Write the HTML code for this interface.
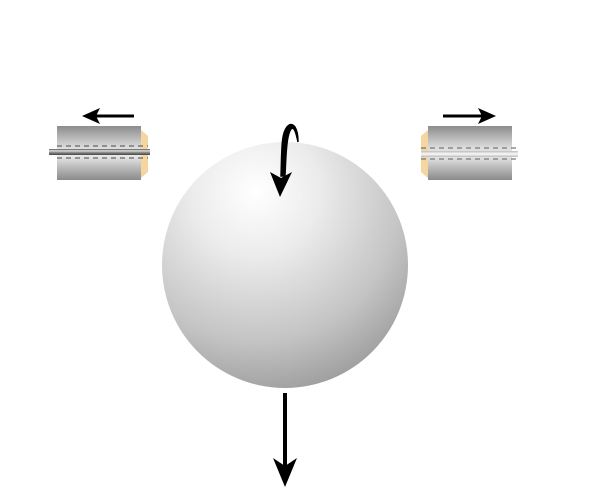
<!DOCTYPE html>
<html><head><meta charset="utf-8"><style>html,body{margin:0;padding:0;background:#fff}svg{display:block}</style></head>
<body>
<svg width="600" height="489" viewBox="0 0 600 489" xmlns="http://www.w3.org/2000/svg">
<defs>
<radialGradient id="sph" cx="0.38" cy="0.22" r="0.85" fx="0.38" fy="0.2">
<stop offset="0" stop-color="#ffffff"/><stop offset="0.3" stop-color="#ececec"/><stop offset="0.7" stop-color="#c4c4c4"/><stop offset="1" stop-color="#989898"/>
</radialGradient>
<linearGradient id="cyl" x1="0" y1="0" x2="0" y2="1">
<stop offset="0" stop-color="#8c8c8c"/><stop offset="0.4" stop-color="#dcdcdc"/><stop offset="0.55" stop-color="#e8e8e8"/><stop offset="1" stop-color="#8a8a8a"/>
</linearGradient>
<linearGradient id="rodL" x1="0" y1="0" x2="0" y2="1">
<stop offset="0" stop-color="#555"/><stop offset="0.3" stop-color="#ddd"/><stop offset="0.6" stop-color="#888"/><stop offset="1" stop-color="#444"/>
</linearGradient>
<linearGradient id="rodR" x1="0" y1="0" x2="0" y2="1">
<stop offset="0" stop-color="#bbb"/><stop offset="0.5" stop-color="#fafafa"/><stop offset="1" stop-color="#bbb"/>
</linearGradient>
</defs>
<circle cx="285" cy="265" r="123" fill="url(#sph)"/>
<g>
<polygon points="141,130 148,136 148,172 141,178" fill="#f5d5a0"/>
<rect x="57" y="126" width="84" height="54" fill="url(#cyl)"/>
<line x1="57" y1="146" x2="148" y2="146" stroke="#666" stroke-width="1.2" stroke-dasharray="5,4"/>
<line x1="57" y1="158" x2="148" y2="158" stroke="#666" stroke-width="1.2" stroke-dasharray="5,4"/>
<rect x="49" y="149" width="101" height="6" fill="url(#rodL)"/>
</g>
<g>
<polygon points="428,130 421,136 421,172 428,178" fill="#f5d5a0"/>
<rect x="428" y="126" width="84" height="54" fill="url(#cyl)"/>
<line x1="421" y1="148" x2="518" y2="148" stroke="#777" stroke-width="1.2" stroke-dasharray="5,4"/>
<line x1="421" y1="159" x2="518" y2="159" stroke="#777" stroke-width="1.2" stroke-dasharray="5,4"/>
<rect x="421" y="151" width="97" height="6" fill="url(#rodR)"/>
</g>
<g>
<line x1="134" y1="116" x2="95" y2="116" stroke="#000" stroke-width="3"/>
<polygon points="82,116 100,108 96,116 100,124" fill="#000"/>
</g>
<g>
<line x1="443" y1="116" x2="483" y2="116" stroke="#000" stroke-width="3"/>
<polygon points="496,116 478,108 482,116 478,124" fill="#000"/>
</g>
<g>
<path d="M298,142 C298,126 292,122 288,126 C281,132 282,150 281,176 L285,176 C286,150 287,134 291,129 C294,126 296,132 298,142 Z" fill="#000" stroke="#000" stroke-width="1.5"/>
<polygon points="280,197 270,172 281,178 292,172" fill="#000"/>
</g>
<g>
<line x1="285" y1="393" x2="285" y2="470" stroke="#000" stroke-width="4"/>
<polygon points="285,487 273,458 285,466 297,458" fill="#000"/>
</g>
</svg>
</body></html>
